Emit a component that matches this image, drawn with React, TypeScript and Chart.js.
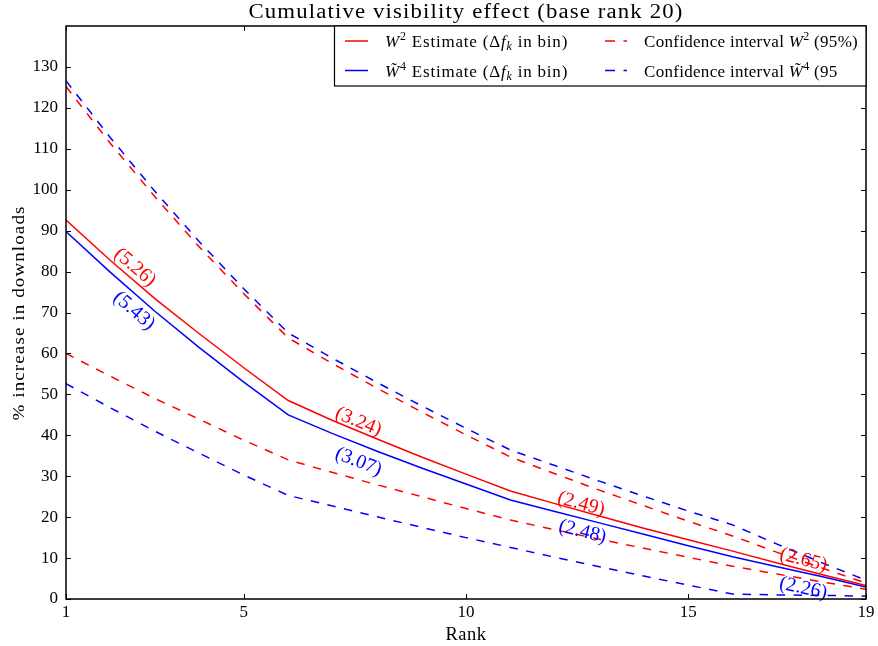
import React, { useEffect, useRef } from 'react';
import { Chart, registerables } from 'chart.js';
Chart.register(...registerables);

const SERIF = '"Liberation Serif", "Times New Roman", serif';

const ranks = [1, 2, 3, 4, 5, 6, 7, 8, 9, 10, 11, 12, 13, 14, 15, 16, 17, 18, 19];
const w2Estimate = [92.6, 82.7, 73.4, 64.8, 56.5, 48.5, 43.6, 39.1, 34.7, 30.5, 26.4, 23.3, 20.3, 17.3, 14.5, 11.7, 8.8, 6.0, 3.3];
const w4Estimate = [89.8, 79.8, 70.3, 61.4, 53.0, 45.0, 40.4, 36.1, 32.0, 28.1, 24.2, 21.4, 18.6, 15.8, 13.0, 10.3, 7.9, 5.5, 2.9];
const w2Upper = [125.2, 111.3, 98.3, 86.0, 74.6, 63.8, 57.5, 51.5, 45.7, 40.1, 34.7, 30.6, 26.6, 22.8, 19.0, 15.4, 11.4, 7.6, 3.9];
const w4Upper = [126.6, 112.7, 99.6, 87.3, 75.8, 65.0, 58.8, 52.9, 47.2, 41.7, 36.4, 32.6, 28.8, 25.1, 21.5, 18.1, 13.4, 8.9, 4.6];
const w2Lower = [60.0, 54.4, 49.0, 43.9, 38.8, 34.0, 30.9, 27.9, 25.0, 22.1, 19.3, 16.9, 14.6, 12.4, 10.2, 8.0, 6.1, 4.2, 2.4];
const w4Lower = [52.6, 46.7, 41.0, 35.6, 30.3, 25.3, 22.7, 20.1, 17.5, 15.0, 12.6, 10.2, 7.9, 5.6, 3.4, 1.2, 1.0, 0.9, 0.7];

const xTickValues = [1, 5, 10, 15, 19];
const yTickValues = [0, 10, 20, 30, 40, 50, 60, 70, 80, 90, 100, 110, 120, 130];

const w2Labels = ['(5.26)', '(3.24)', '(2.49)', '(2.65)'];
const w2LabelRank = [2.55, 7.58, 12.59, 17.59];
const w2LabelValue = [81.0, 43.3, 23.2, 9.5];
const w4Labels = ['(5.43)', '(3.07)', '(2.48)', '(2.26)'];
const w4LabelRank = [2.53, 7.58, 12.62, 17.59];
const w4LabelValue = [70.4, 33.5, 16.4, 2.6];

const titleText = 'Cumulative visibility effect (base rank 20)';
const xTitle = 'Rank';
const yTitle = '% increase in downloads';

const RED = '#ff0000';
const BLUE = '#0000ff';
const DASH = [8.5, 8.5];

type Run = { t: string; italic?: boolean; size?: number; dy?: number };

function drawRuns(ctx: CanvasRenderingContext2D, x: number, y: number, runs: Run[]) {
  let cx = x;
  for (const r of runs) {
    ctx.font = `${r.italic ? 'italic ' : ''}${r.size || 17}px ${SERIF}`;
    ctx.fillText(r.t, cx, y + (r.dy || 0));
    cx += ctx.measureText(r.t).width;
  }
}

function stretchedText(ctx: CanvasRenderingContext2D, text: string, x: number, y: number, font: string, spacing: number, target: number, rot = 0) {
  ctx.save();
  ctx.font = font;
  (ctx as any).letterSpacing = `${spacing}px`;
  const w = ctx.measureText(text).width;
  const sx = target / w;
  ctx.translate(x, y);
  ctx.rotate(rot);
  ctx.scale(sx, 1);
  ctx.textAlign = 'center';
  ctx.fillText(text, 0, 0);
  ctx.restore();
}

function angleAt(chart: any, series: number[], r: number) {
  const xs = chart.scales.x;
  const ys = chart.scales.y;
  let i = Math.floor(r) - 1;
  if (i < 0) i = 0;
  if (i > series.length - 2) i = series.length - 2;
  const x1 = xs.getPixelForValue(ranks[i]);
  const x2 = xs.getPixelForValue(ranks[i + 1]);
  const y1 = ys.getPixelForValue(series[i]);
  const y2 = ys.getPixelForValue(series[i + 1]);
  return Math.atan2(y2 - y1, x2 - x1);
}

const decor = {
  id: 'decor',
  afterDatasetsDraw(chart: any) {
    const ctx: CanvasRenderingContext2D = chart.ctx;
    const a = chart.chartArea;
    const xs = chart.scales.x;
    const ys = chart.scales.y;
    ctx.save();

    // line labels
    ctx.textAlign = 'center';
    ctx.textBaseline = 'middle';
    ctx.font = `20px ${SERIF}`;
    const drawLabels = (texts: string[], rs: number[], vs: number[], series: number[], color: string) => {
      texts.forEach((t, k) => {
        const px = xs.getPixelForValue(rs[k]);
        const py = ys.getPixelForValue(vs[k]);
        const ang = angleAt(chart, series, rs[k]);
        ctx.save();
        ctx.translate(px, py);
        ctx.rotate(ang);
        ctx.fillStyle = color;
        ctx.fillText(t, 0, 0);
        ctx.restore();
      });
    };
    drawLabels(w2Labels, w2LabelRank, w2LabelValue, w2Estimate, RED);
    drawLabels(w4Labels, w4LabelRank, w4LabelValue, w4Estimate, BLUE);

    // axes frame
    ctx.strokeStyle = '#000';
    ctx.lineWidth = 1.5;
    ctx.strokeRect(a.left, a.top, a.right - a.left, a.bottom - a.top);
    ctx.lineWidth = 1;
    ctx.beginPath();
    yTickValues.forEach((v) => {
      const py = Math.round(ys.getPixelForValue(v)) + 0.5;
      ctx.moveTo(a.left, py); ctx.lineTo(a.left + 5, py);
      ctx.moveTo(a.right, py); ctx.lineTo(a.right - 5, py);
    });
    xTickValues.forEach((v) => {
      const px = Math.round(xs.getPixelForValue(v)) + 0.5;
      ctx.moveTo(px, a.bottom); ctx.lineTo(px, a.bottom - 5);
      ctx.moveTo(px, a.top); ctx.lineTo(px, a.top + 5);
    });
    ctx.stroke();

    // legend
    const lx = 334.5, ly = a.top, lw = a.right - 334.5, lh = 60;
    ctx.fillStyle = '#fff';
    ctx.fillRect(lx, ly, lw, lh);
    ctx.strokeStyle = '#000';
    ctx.lineWidth = 1.2;
    ctx.strokeRect(lx, ly, lw, lh);
    const rows = [ly + 15, ly + 44.5];
    const handle = (x1: number, x2: number, y: number, color: string, dashed: boolean) => {
      ctx.save();
      ctx.strokeStyle = color;
      ctx.lineWidth = 1.5;
      ctx.setLineDash(dashed ? [10, 8.5] : []);
      ctx.beginPath(); ctx.moveTo(x1, y); ctx.lineTo(x2, y); ctx.stroke();
      ctx.restore();
    };
    handle(345, 368, rows[0], RED, false);
    handle(345, 368, rows[1], BLUE, false);
    handle(605, 627, rows[0], RED, true);
    handle(605, 627, rows[1], BLUE, true);
    ctx.save();
    ctx.beginPath(); ctx.rect(lx, ly, lw, lh); ctx.clip();
    ctx.fillStyle = '#000';
    ctx.textAlign = 'left';
    ctx.textBaseline = 'alphabetic';
    const b0 = rows[0] + 6, b1 = rows[1] + 6;
    (ctx as any).letterSpacing = '0.8px';
    drawRuns(ctx, 385, b0, [
      { t: 'W', italic: true }, { t: '2', size: 12, dy: -7 }, { t: ' Estimate (\u0394' },
      { t: 'f', italic: true }, { t: 'k', italic: true, size: 12, dy: 3 }, { t: ' in bin)' },
    ]);
    drawRuns(ctx, 385, b1, [
      { t: 'W\u0303', italic: true }, { t: '4', size: 12, dy: -7 }, { t: ' Estimate (\u0394' },
      { t: 'f', italic: true }, { t: 'k', italic: true, size: 12, dy: 3 }, { t: ' in bin)' },
    ]);
    (ctx as any).letterSpacing = '0.3px';
    drawRuns(ctx, 644, b0, [
      { t: 'Confidence interval ' }, { t: 'W', italic: true }, { t: '2', size: 12, dy: -7 }, { t: ' (95%)' },
    ]);
    drawRuns(ctx, 644, b1, [
      { t: 'Confidence interval ' }, { t: 'W\u0303', italic: true }, { t: '4', size: 12, dy: -7 }, { t: ' (95' },
    ]);
    (ctx as any).letterSpacing = '0px';
    ctx.restore();

    // titles
    ctx.fillStyle = '#000';
    ctx.textBaseline = 'alphabetic';
    const cx = (a.left + a.right) / 2;
    stretchedText(ctx, titleText, cx, 18, `20px ${SERIF}`, 1, 435);
    stretchedText(ctx, xTitle, cx, 640, `18px ${SERIF}`, 0.5, 41);
    stretchedText(ctx, yTitle, 24, 313, `17px ${SERIF}`, 1, 215, -Math.PI / 2);

    ctx.restore();
  },
};

export default function App() {
  const ref = useRef<HTMLCanvasElement>(null);
  useEffect(() => {
    if (!ref.current) return;
    const mk = (label: string, data: number[], color: string, dashed: boolean) => ({
      label,
      data: ranks.map((r, i) => ({ x: r, y: data[i] })),
      borderColor: color,
      backgroundColor: color,
      borderWidth: 1.5,
      borderDash: dashed ? DASH : [],
      pointRadius: 0,
      tension: 0,
      fill: false,
    });
    const chart = new Chart(ref.current, {
      type: 'line',
      data: {
        datasets: [
          mk('W2 Estimate', w2Estimate, RED, false),
          mk('W4 Estimate', w4Estimate, BLUE, false),
          mk('CI W2 upper', w2Upper, RED, true),
          mk('CI W2 lower', w2Lower, RED, true),
          mk('CI W4 upper', w4Upper, BLUE, true),
          mk('CI W4 lower', w4Lower, BLUE, true),
        ],
      },
      options: {
        animation: false,
        responsive: false,
        maintainAspectRatio: false,
        layout: { padding: { left: 0, right: 12, top: 26, bottom: 0 } },
        plugins: { legend: { display: false }, title: { display: false }, tooltip: { enabled: false } },
        scales: {
          x: {
            type: 'linear',
            min: 1,
            max: 19,
            grid: { display: false, drawTicks: false },
            border: { display: false },
            afterBuildTicks: (s: any) => { s.ticks = xTickValues.map((v) => ({ value: v })); },
            afterFit: (s: any) => { s.height = 47; },
            ticks: { font: { family: SERIF, size: 17 }, color: '#000', padding: 3, maxRotation: 0, autoSkip: false },
          },
          y: {
            type: 'linear',
            min: 0,
            max: 140,
            grid: { display: false, drawTicks: false },
            border: { display: false },
            afterBuildTicks: (s: any) => { s.ticks = yTickValues.map((v) => ({ value: v })); },
            afterFit: (s: any) => { s.width = 66; },
            ticks: { font: { family: SERIF, size: 17 }, color: '#000', padding: 8, autoSkip: false },
          },
        },
      },
      plugins: [decor],
    } as any);
    return () => chart.destroy();
  }, []);
  return (
    <div style={{ position: 'fixed', left: 0, top: 0, width: 878, height: 646, background: '#fff' }}>
      <canvas ref={ref} width={878} height={646} style={{ display: 'block' }} />
    </div>
  );
}
